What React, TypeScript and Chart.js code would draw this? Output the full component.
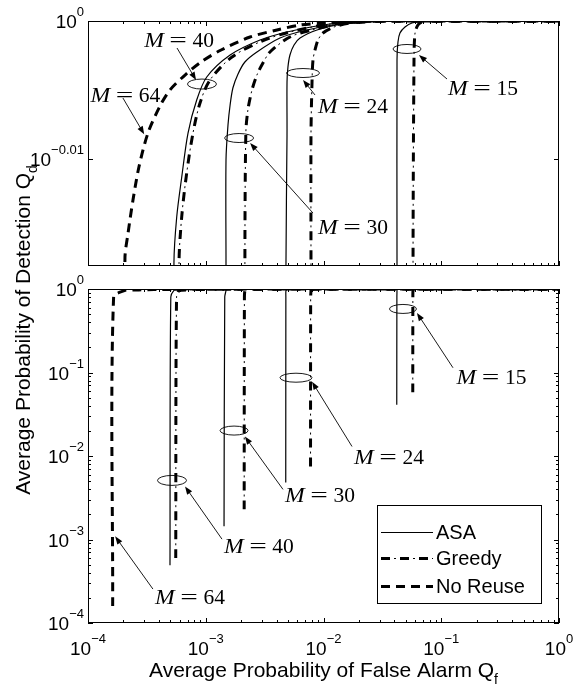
import React, { useEffect, useRef } from 'react';
import { Chart, registerables } from 'chart.js';
Chart.register(...registerables);

const WIDTH = 577;
const HEIGHT = 686;
const SANS = '"Liberation Sans", Arial, sans-serif';
const SERIF = '"Liberation Serif", "Times New Roman", serif';

// ---------------- data (Qf = false alarm, Qd = detection) ----------------
const noReuse64Qf = [1.62e-4, 1.65e-4, 2.06e-4, 2.19e-4, 2.41e-4, 2.71e-4, 3.23e-4, 4.09e-4, 4.97e-4, 6.67e-4, 9.12e-4, 1.35e-3, 2.38e-3, 4.03e-3, 6.32e-3, 0.0107, 0.0302, 1];
const noReuse64Qd = [1.6e-4, 0.8, 0.9613, 0.9653, 0.9706, 0.976, 0.9815, 0.98594, 0.98857, 0.99104, 0.99319, 0.99518, 0.99734, 0.9985, 0.99933, 0.99967, 1, 1];

const asa40Qf = [4.97e-4, 5.05e-4, 5.37e-4, 5.67e-4, 6.25e-4, 7.07e-4, 8.38e-4, 1.02e-3, 1.61e-3, 2.89e-3, 4.9e-3, 0.01135, 0.0302, 1];
const asa40Qd = [4.9e-4, 0.8, 0.9605, 0.9679, 0.9743, 0.9815, 0.98692, 0.99071, 0.99435, 0.99684, 0.99817, 0.9995, 1, 1];
const greedy40Qf = [5.56e-4, 5.65e-4, 5.93e-4, 6.25e-4, 6.89e-4, 7.79e-4, 8.94e-4, 1.087e-3, 1.67e-3, 3.0e-3, 5.19e-3, 0.0114, 0.0302, 1];
const greedy40Qd = [6.0e-4, 0.8, 0.9605, 0.9679, 0.975, 0.9815, 0.98643, 0.99022, 0.99402, 0.99667, 0.99817, 0.9995, 1, 1];

const asa30Qf = [1.43e-3, 1.45e-3, 1.486e-3, 1.486e-3, 1.545e-3, 1.61e-3, 1.7e-3, 1.88e-3, 2.15e-3, 2.72e-3, 4.27e-3, 7.24e-3, 0.0138, 0.0367, 1];
const asa30Qd = [1.44e-3, 0.8, 0.96, 0.9771, 0.98282, 0.9861, 0.9889, 0.99121, 0.99319, 0.99485, 0.99717, 0.9985, 0.9995, 1, 1];
const greedy30Qf = [2.12e-3, 2.13e-3, 2.15e-3, 2.19e-3, 2.28e-3, 2.47e-3, 2.72e-3, 3.06e-3, 3.51e-3, 5.19e-3, 7.99e-3, 0.0138, 0.0367, 1];
const greedy30Qd = [2.3e-3, 0.8, 0.96, 0.9815, 0.98528, 0.98857, 0.99104, 0.99302, 0.99485, 0.99734, 0.9985, 0.9995, 1, 1];

const asa24Qf = [4.78e-3, 4.79e-3, 4.8e-3, 4.9e-3, 4.9e-3, 4.99e-3, 5.19e-3, 5.62e-3, 6.32e-3, 8.81e-3, 0.013, 0.0248, 0.0446, 1];
const asa24Qd = [4.8e-3, 0.8, 0.96, 0.9812, 0.98988, 0.99236, 0.99435, 0.99601, 0.99717, 0.9985, 0.99933, 0.99983, 1, 1];
const greedy24Qf = [7.76e-3, 7.78e-3, 7.83e-3, 7.83e-3, 7.99e-3, 8.14e-3, 8.47e-3, 8.98e-3, 9.9e-3, 0.01228, 0.0168, 0.0302, 1];
const greedy24Qd = [7.5e-3, 0.8, 0.96, 0.9812, 0.98988, 0.99352, 0.99518, 0.99684, 0.998, 0.999, 0.99967, 1, 1];

const asa15Qf = [0.0419, 0.042, 0.0421, 0.0421, 0.0429, 0.0446, 0.0492, 0.0564, 0.0757, 1];
const asa15Qd = [0.041, 0.8, 0.96, 0.99352, 0.99651, 0.998, 0.999, 0.99967, 1, 1];
const greedy15Qf = [0.0573, 0.0574, 0.0576, 0.0587, 0.0599, 0.0634, 0.0686, 0.0834, 1];
const greedy15Qd = [0.058, 0.8, 0.96, 0.99352, 0.998, 0.99933, 0.99983, 1, 1];

// ---------------- ticks ----------------
const X_TICKS = [1e-4, 1e-3, 1e-2, 1e-1, 1];
const X_TICK_EXP = ['\u22124', '\u22123', '\u22122', '\u22121', '0'];
const TOP_Y_TICKS = [1, 0.977237];
const TOP_Y_TICK_EXP = ['0', '\u22120.01'];
const BOTTOM_Y_TICKS = [1e-4, 1e-3, 1e-2, 1e-1, 1];
const BOTTOM_Y_TICK_EXP = ['\u22124', '\u22123', '\u22122', '\u22121', '0'];

const X_LABEL = 'Average Probability of False Alarm Q';
const X_LABEL_SUB = 'f';
const Y_LABEL = 'Average Probability of Detection Q';
const Y_LABEL_SUB = 'd';

const LEGEND_NAMES = ['ASA', 'Greedy', 'No Reuse'];

type Kind = 'asa' | 'greedy' | 'noreuse';
const SERIES: { kind: Kind; qf: number[]; qd: number[] }[] = [
  { kind: 'asa', qf: asa15Qf, qd: asa15Qd },
  { kind: 'greedy', qf: greedy15Qf, qd: greedy15Qd },
  { kind: 'asa', qf: asa24Qf, qd: asa24Qd },
  { kind: 'greedy', qf: greedy24Qf, qd: greedy24Qd },
  { kind: 'asa', qf: asa30Qf, qd: asa30Qd },
  { kind: 'greedy', qf: greedy30Qf, qd: greedy30Qd },
  { kind: 'asa', qf: asa40Qf, qd: asa40Qd },
  { kind: 'greedy', qf: greedy40Qf, qd: greedy40Qd },
  { kind: 'noreuse', qf: noReuse64Qf, qd: noReuse64Qd },
];

// annotations in data coordinates: text centre, ellipse centre, arrow from (f) to head (h)
type Ann = { label: string; tx: number; ty: number; ex?: number; ey?: number; ew?: number; eh?: number; fx: number; fy: number; hx: number; hy: number };
const TOP_ANN: Ann[] = [
  { label: '40', tx: 5.93e-4, ty: 0.99684, ex: 9.29e-4, ey: 0.98955, ew: 29, eh: 10, fx: 5.7e-4, fy: 0.99551, hx: 8.27e-4, hy: 0.99022 },
  { label: '64', tx: 2.08e-4, ty: 0.98775, fx: 1.98e-4, fy: 0.98725, hx: 3.0e-4, hy: 0.9813 },
  { label: '30', tx: 0.0178, ty: 0.96626, ex: 1.92e-3, ey: 0.98069, ew: 29, eh: 9, fx: 8.14e-3, fy: 0.96851, hx: 2.38e-3, hy: 0.97988 },
  { label: '24', tx: 0.0178, ty: 0.98594, ex: 6.7e-3, ey: 0.99137, ew: 33, eh: 9, fx: 8.47e-3, fy: 0.98775, hx: 6.7e-3, hy: 0.99022 },
  { label: '15', tx: 0.2262, ty: 0.9889, ex: 0.0512, ey: 0.99535, ew: 28, eh: 9, fx: 0.1119, fy: 0.99038, hx: 0.0647, hy: 0.99435 },
];
const BOTTOM_ANN: Ann[] = [
  { label: '15', tx: 0.2672, ty: 0.089, ex: 0.0473, ey: 0.577, ew: 27, eh: 9, fx: 0.1258, fy: 0.1139, hx: 0.0622, hy: 0.517 },
  { label: '24', tx: 0.036, ty: 0.00986, ex: 5.84e-3, ey: 0.0866, ew: 32, eh: 9, fx: 0.01746, fy: 0.013, hx: 7.99e-3, hy: 0.0776 },
  { label: '30', tx: 9.34e-3, ty: 0.00341, ex: 1.74e-3, ey: 0.02016, ew: 28, eh: 9, fx: 4.53e-3, fy: 0.00398, hx: 2.15e-3, hy: 0.0171 },
  { label: '40', tx: 2.83e-3, ty: 0.00083, ex: 5.17e-4, ey: 0.0051, ew: 29, eh: 10, fx: 1.374e-3, fy: 0.00101, hx: 6.67e-4, hy: 0.00432 },
  { label: '64', tx: 7.35e-4, ty: 0.000204, fx: 3.56e-4, fy: 0.000255, hx: 1.7e-4, hy: 0.00109 },
];

type Area = { left: number; top: number; right: number; bottom: number };
const TOP_AREA: Area = { left: 88, top: 21, right: 559, bottom: 266 };
const BOTTOM_AREA: Area = { left: 88, top: 289, right: 559, bottom: 623 };

function styleFor(kind: Kind) {
  if (kind === 'asa') return [{ borderWidth: 1.2, borderDash: [] as number[], borderDashOffset: 0 }];
  if (kind === 'greedy')
    return [
      { borderWidth: 3, borderDash: [9, 10], borderDashOffset: 0 },
      { borderWidth: 1, borderDash: [2, 17], borderDashOffset: 6 },
    ];
  return [{ borderWidth: 3, borderDash: [9, 6], borderDashOffset: 0 }];
}

function buildDatasets() {
  const out: any[] = [];
  SERIES.forEach((s) => {
    styleFor(s.kind).forEach((st) => {
      out.push({
        data: s.qf.map((x, i) => ({ x, y: s.qd[i] })),
        borderColor: '#000',
        backgroundColor: '#000',
        pointRadius: 0,
        fill: false,
        tension: 0.3,
        borderCapStyle: 'butt',
        borderJoinStyle: 'round',
        ...st,
      });
    });
  });
  return out;
}

function drawPow(ctx: CanvasRenderingContext2D, exp: string, x: number, y: number, align: 'center' | 'right') {
  ctx.font = `19px ${SANS}`;
  const wb = ctx.measureText('10').width;
  ctx.font = `13px ${SANS}`;
  const we = ctx.measureText(exp).width;
  const total = wb + we;
  const sx = align === 'center' ? x - total / 2 : x - total;
  ctx.textAlign = 'left';
  ctx.textBaseline = 'alphabetic';
  ctx.font = `19px ${SANS}`;
  ctx.fillText('10', sx, y);
  ctx.font = `13px ${SANS}`;
  ctx.fillText(exp, sx + wb, y - 12);
}

function drawMathLabel(ctx: CanvasRenderingContext2D, num: string, cx: number, cy: number) {
  ctx.textAlign = 'left';
  ctx.textBaseline = 'alphabetic';
  const size = 21.5;
  ctx.font = `italic ${size}px ${SERIF}`;
  const wM = ctx.measureText('M').width * 1.1;
  ctx.font = `${size}px ${SERIF}`;
  const wEq = ctx.measureText('=').width * 1.45;
  const wN = ctx.measureText(num).width;
  const gap = 5.5;
  const total = wM + gap + wEq + gap + wN;
  let x = cx - total / 2;
  const base = cy + 7;
  ctx.save();
  ctx.font = `italic ${size}px ${SERIF}`;
  ctx.translate(x, base);
  ctx.scale(1.1, 1);
  ctx.fillText('M', 0, 0);
  ctx.restore();
  x += wM + gap;
  ctx.save();
  ctx.font = `${size}px ${SERIF}`;
  ctx.translate(x, base);
  ctx.scale(1.45, 1);
  ctx.fillText('=', 0, 0);
  ctx.restore();
  x += wEq + gap;
  ctx.font = `${size}px ${SERIF}`;
  ctx.fillText(num, x, base);
}

function drawArrow(ctx: CanvasRenderingContext2D, x0: number, y0: number, x1: number, y1: number) {
  const ang = Math.atan2(y1 - y0, x1 - x0);
  const L = 8;
  const Wd = 3;
  ctx.beginPath();
  ctx.moveTo(x0, y0);
  ctx.lineTo(x1 - Math.cos(ang) * L * 0.8, y1 - Math.sin(ang) * L * 0.8);
  ctx.stroke();
  ctx.beginPath();
  ctx.moveTo(x1, y1);
  ctx.lineTo(x1 - Math.cos(ang) * L - Math.sin(ang) * Wd, y1 - Math.sin(ang) * L + Math.cos(ang) * Wd);
  ctx.lineTo(x1 - Math.cos(ang) * L + Math.sin(ang) * Wd, y1 - Math.sin(ang) * L - Math.cos(ang) * Wd);
  ctx.closePath();
  ctx.fill();
}

function drawLegendLine(ctx: CanvasRenderingContext2D, kind: Kind, x0: number, x1: number, y: number) {
  styleFor(kind).forEach((st) => {
    ctx.save();
    ctx.lineWidth = st.borderWidth;
    ctx.setLineDash(st.borderDash);
    ctx.lineDashOffset = st.borderDashOffset;
    ctx.lineCap = 'butt';
    ctx.beginPath();
    ctx.moveTo(x0, y);
    ctx.lineTo(x1, y);
    ctx.stroke();
    ctx.restore();
  });
}

function makeDecor(isBottom: boolean, yTicks: number[], yExp: string[], anns: Ann[]) {
  return {
    id: 'decor',
    afterDraw(chart: any) {
      const { ctx, chartArea: a, scales } = chart;
      const xs = scales.x;
      const ys = scales.y;
      const X = (v: number) => xs.getPixelForValue(v);
      const Y = (v: number) => ys.getPixelForValue(v);
      ctx.save();
      ctx.strokeStyle = '#000';
      ctx.fillStyle = '#000';
      ctx.lineWidth = 1;
      ctx.setLineDash([]);
      // frame
      ctx.strokeRect(a.left + 0.5, a.top + 0.5, a.right - a.left - 1, a.bottom - a.top - 1);
      // x ticks (inward, top and bottom)
      ctx.beginPath();
      for (let d = -4; d <= 0; d++) {
        for (let k = 1; k <= 9; k++) {
          const v = k * Math.pow(10, d);
          if (v > 1.0001) break;
          const px = Math.round(X(v)) + 0.5;
          const len = k === 1 ? 5 : 3;
          ctx.moveTo(px, a.top);
          ctx.lineTo(px, a.top + len);
          ctx.moveTo(px, a.bottom);
          ctx.lineTo(px, a.bottom - len);
        }
      }
      // y ticks
      if (isBottom) {
        for (let d = -4; d <= 0; d++) {
          for (let k = 1; k <= 9; k++) {
            const v = k * Math.pow(10, d);
            if (v > 1.0001) break;
            const py = Math.round(Y(v)) + 0.5;
            const len = k === 1 ? 5 : 3;
            ctx.moveTo(a.left, py);
            ctx.lineTo(a.left + len, py);
            ctx.moveTo(a.right, py);
            ctx.lineTo(a.right - len, py);
          }
        }
      } else {
        yTicks.forEach((v) => {
          const py = Math.round(Y(v)) + 0.5;
          ctx.moveTo(a.left, py);
          ctx.lineTo(a.left + 5, py);
          ctx.moveTo(a.right, py);
          ctx.lineTo(a.right - 5, py);
        });
      }
      ctx.stroke();

      // y tick labels
      yTicks.forEach((v, i) => {
        const py = Y(v);
        drawPow(ctx, yExp[i], a.left - 4, py + 7, 'right');
      });
      // x tick labels
      if (isBottom) {
        X_TICKS.forEach((v, i) => {
          drawPow(ctx, X_TICK_EXP[i], X(v), a.bottom + 32, 'center');
        });
      }

      // annotations
      ctx.lineWidth = 0.9;
      anns.forEach((an) => {
        if (an.ex !== undefined) {
          ctx.beginPath();
          ctx.ellipse(X(an.ex), Y(an.ey as number), (an.ew as number) / 2, (an.eh as number) / 2, 0, 0, Math.PI * 2);
          ctx.stroke();
        }
        drawArrow(ctx, X(an.fx), Y(an.fy), X(an.hx), Y(an.hy));
        drawMathLabel(ctx, an.label, X(an.tx), Y(an.ty));
      });

      if (isBottom) {
        // axis labels
        ctx.textBaseline = 'alphabetic';
        ctx.textAlign = 'left';
        ctx.font = `21px ${SANS}`;
        const wx = ctx.measureText(X_LABEL).width;
        ctx.font = `14px ${SANS}`;
        const wxs = ctx.measureText(X_LABEL_SUB).width;
        const xl = (a.left + a.right) / 2 - (wx + wxs) / 2;
        ctx.font = `21px ${SANS}`;
        ctx.fillText(X_LABEL, xl, 677);
        ctx.font = `14px ${SANS}`;
        ctx.fillText(X_LABEL_SUB, xl + wx, 684);

        ctx.save();
        ctx.translate(30, 330);
        ctx.rotate(-Math.PI / 2);
        ctx.font = `21px ${SANS}`;
        const wy = ctx.measureText(Y_LABEL).width;
        ctx.font = `14px ${SANS}`;
        const wys = ctx.measureText(Y_LABEL_SUB).width;
        const yl = -(wy + wys) / 2;
        ctx.font = `21px ${SANS}`;
        ctx.fillText(Y_LABEL, yl, 0);
        ctx.font = `14px ${SANS}`;
        ctx.fillText(Y_LABEL_SUB, yl + wy, 7);
        ctx.restore();

        // legend
        const bw = 164;
        const bh = 98;
        const bx = a.right - 18 - bw;
        const by = a.bottom - 20 - bh;
        ctx.fillStyle = '#fff';
        ctx.fillRect(bx, by, bw, bh);
        ctx.fillStyle = '#000';
        ctx.lineWidth = 1;
        ctx.strokeRect(bx + 0.5, by + 0.5, bw, bh);
        const kinds: Kind[] = ['asa', 'greedy', 'noreuse'];
        const rows = [27, 53, 81];
        kinds.forEach((k, i) => {
          const ry = by + rows[i];
          drawLegendLine(ctx, k, bx + 4, bx + 56, ry + 0.5);
          ctx.font = `20px ${SANS}`;
          ctx.textAlign = 'left';
          ctx.textBaseline = 'alphabetic';
          ctx.fillText(LEGEND_NAMES[i], bx + 59, ry + 7);
        });
      }
      ctx.restore();
    },
  };
}

function makeChart(canvas: HTMLCanvasElement, area: Area, yMin: number, yMax: number, isBottom: boolean) {
  return new Chart(canvas, {
    type: 'line',
    data: { datasets: buildDatasets() },
    options: {
      responsive: false,
      animation: false,
      devicePixelRatio: 1,
      events: [],
      layout: { padding: { top: area.top, right: WIDTH - area.right, left: 0, bottom: 0 } },
      plugins: { legend: { display: false }, tooltip: { enabled: false } },
      scales: {
        x: {
          type: 'logarithmic',
          min: 1e-4,
          max: 1,
          ticks: { display: false },
          grid: { display: false, drawTicks: false },
          border: { display: false },
          afterFit: (s: any) => {
            s.height = HEIGHT - area.bottom;
          },
        },
        y: {
          type: 'logarithmic',
          min: yMin,
          max: yMax,
          ticks: { display: false },
          grid: { display: false, drawTicks: false },
          border: { display: false },
          afterFit: (s: any) => {
            s.width = area.left;
          },
        },
      },
    } as any,
    plugins: [
      makeDecor(isBottom, isBottom ? BOTTOM_Y_TICKS : TOP_Y_TICKS, isBottom ? BOTTOM_Y_TICK_EXP : TOP_Y_TICK_EXP, isBottom ? BOTTOM_ANN : TOP_ANN),
    ],
  });
}

export default function App() {
  const topRef = useRef<HTMLCanvasElement>(null);
  const botRef = useRef<HTMLCanvasElement>(null);
  useEffect(() => {
    const c1 = makeChart(topRef.current as HTMLCanvasElement, TOP_AREA, 0.96, 1, false);
    const c2 = makeChart(botRef.current as HTMLCanvasElement, BOTTOM_AREA, 1e-4, 1, true);
    return () => {
      c1.destroy();
      c2.destroy();
    };
  }, []);
  return (
    <div style={{ position: 'fixed', left: 0, top: 0, width: WIDTH, height: HEIGHT, background: '#fff', overflow: 'hidden' }}>
      <canvas ref={topRef} width={WIDTH} height={HEIGHT} style={{ position: 'absolute', left: 0, top: 0 }} />
      <canvas ref={botRef} width={WIDTH} height={HEIGHT} style={{ position: 'absolute', left: 0, top: 0 }} />
    </div>
  );
}
